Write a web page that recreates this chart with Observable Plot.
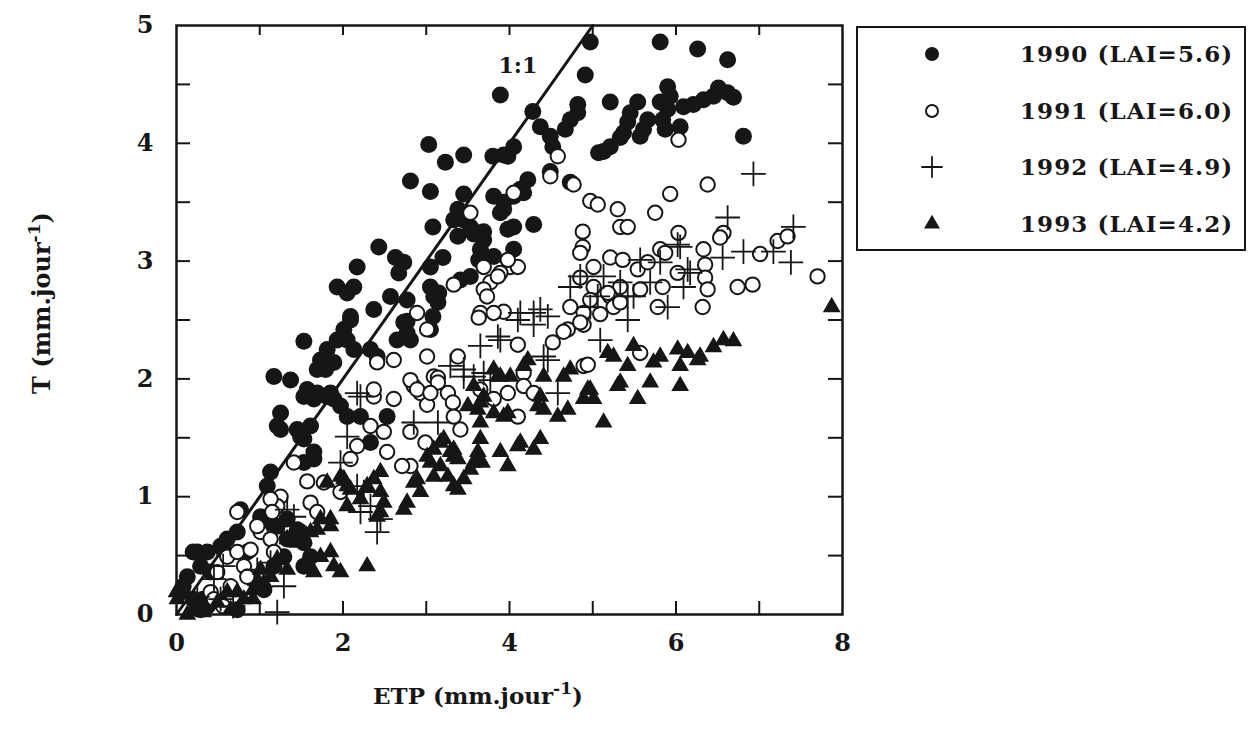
<!DOCTYPE html>
<html><head><meta charset="utf-8">
<script src="https://cdn.jsdelivr.net/npm/d3@7"></script>
<script src="https://cdn.jsdelivr.net/npm/@observablehq/plot@0.6"></script>
<style>
body{margin:0;background:#fff;}
#wrap{position:relative;width:1250px;height:737px;}
#wrap svg{position:absolute;left:0;top:0;}
</style></head><body><div id="wrap"></div>
<script>
// ---- data (ETP, T) in mm/jour ----
const seriesNames = ["1990 (LAI=5.6)", "1991 (LAI=6.0)", "1992 (LAI=4.9)", "1993 (LAI=4.2)"];
const xLabelTicks = [0, 2, 4, 6, 8];
const yLabelTicks = [0, 1, 2, 3, 4, 5];
const xMinorTicks = [1, 2, 3, 4, 5, 6, 7];
const yMinorTicks = [0.5, 1, 1.5, 2, 2.5, 3, 3.5, 4, 4.5];
const diag = [0, 5];
const annot = [{x: 4.1, y: 4.66, text: "1:1"}];

const d1990 = [
[4.97,4.86],[5.81,4.86],[6.26,4.80],[6.62,4.71],[3.89,4.41],[4.91,4.58],[5.21,4.35],[4.28,4.27],[4.82,4.33],[4.82,4.26],
[4.37,4.14],[4.49,4.06],[4.52,3.97],[4.67,4.12],[4.73,4.20],[4.05,3.97],[3.98,3.89],[3.80,3.89],[5.90,4.48],[5.93,4.40],
[5.54,4.35],[5.45,4.26],[5.42,4.18],[5.37,4.09],[5.33,4.05],[5.21,3.97],[5.13,3.93],[5.07,3.92],[5.66,4.20],[5.61,4.12],
[5.57,4.06],[5.81,4.35],[5.90,4.29],[5.84,4.20],[5.87,4.12],[6.05,4.14],[6.09,4.31],[6.21,4.33],[6.33,4.37],[6.45,4.40],
[6.51,4.47],[6.62,4.43],[6.69,4.39],[6.81,4.06],[4.22,3.69],[4.13,3.61],[4.05,3.55],[3.93,3.50],[3.81,3.55],[3.89,3.41],
[4.17,3.58],[4.05,3.29],[4.29,3.31],[4.05,3.10],[3.81,3.04],[3.65,3.10],[4.73,3.67],[4.49,3.76],[3.03,3.99],[3.23,3.84],
[3.45,3.90],[3.93,3.90],[2.81,3.68],[3.05,3.59],[3.45,3.57],[3.38,3.44],[3.33,3.35],[3.93,3.44],[3.08,3.29],[3.38,3.21],
[3.57,3.23],[3.69,3.25],[3.98,3.27],[2.43,3.12],[2.63,3.03],[2.73,2.99],[2.67,2.90],[3.05,2.95],[3.20,3.03],[3.63,3.01],
[2.17,2.95],[1.93,2.78],[2.05,2.73],[2.13,2.78],[2.57,2.70],[2.77,2.67],[3.09,2.70],[2.37,2.59],[2.09,2.53],[2.77,2.49],
[3.45,3.35],[3.53,3.29],[3.65,3.24],[3.69,3.18],[3.53,2.87],[3.41,2.84],[3.05,2.78],[3.15,2.73],[3.14,2.65],[2.73,2.48],
[2.77,2.39],[2.65,2.33],[2.81,2.33],[3.08,2.53],[3.05,2.42],[2.09,2.50],[2.01,2.42],[1.93,2.33],[2.05,2.33],[2.13,2.25],
[1.53,2.32],[1.81,2.25],[1.73,2.16],[1.69,2.08],[1.79,2.08],[1.89,2.14],[2.33,2.25],[2.41,2.19],[1.17,2.02],[1.37,1.99],
[1.57,1.91],[1.69,1.88],[1.85,1.88],[1.53,1.85],[1.65,1.83],[1.81,1.85],[1.25,1.71],[1.21,1.60],[1.45,1.57],[1.61,1.60],
[1.53,1.49],[1.89,1.83],[1.97,1.77],[2.05,1.68],[2.21,1.68],[2.53,1.68],[2.33,1.46],[1.65,1.38],[1.53,1.29],[1.13,1.21],
[1.09,1.09],[0.77,0.89],[0.61,0.64],[0.53,0.58],[0.25,0.53],[0.73,0.70],[0.85,0.53],[0.29,0.41],[0.41,0.36],[0.13,0.32],
[0.05,0.19],[0.20,0.13],[0.37,0.07],[1.01,0.83],[1.13,0.78],[1.21,0.75],[1.33,0.64],[1.29,0.49],[1.17,0.41],[1.49,0.70],
[1.25,1.57],[1.49,1.51],[1.65,1.32],[1.33,0.81],[1.45,0.72],[0.56,0.55],[0.20,0.53],[0.37,0.53],[0.08,0.24],[0.32,0.13],
[0.53,0.10],[0.29,0.04],[0.73,0.04],[0.92,0.30],[1.05,0.21],[1.53,0.61],[1.61,0.49],[1.53,0.41]
];

const d1991 = [
[6.03,4.03],[4.58,3.89],[4.49,3.72],[4.05,3.58],[4.77,3.65],[4.97,3.51],[5.06,3.48],[5.30,3.44],[5.33,3.29],[5.42,3.29],
[5.93,3.57],[5.75,3.41],[6.38,3.65],[4.88,3.25],[6.03,3.24],[6.57,3.24],[6.53,3.20],[4.88,3.12],[5.21,3.03],[5.36,3.01],
[5.81,3.10],[5.87,3.07],[6.33,3.10],[6.35,2.97],[7.01,3.06],[7.22,3.17],[7.34,3.21],[7.70,2.87],[5.54,2.93],[5.66,2.99],
[6.02,2.90],[6.74,2.78],[6.92,2.80],[4.85,2.86],[5.01,2.78],[5.33,2.78],[5.57,2.76],[5.84,2.78],[6.35,2.86],[6.38,2.76],
[6.32,2.61],[5.78,2.61],[5.21,2.70],[5.25,2.61],[4.97,2.67],[4.73,2.61],[4.89,2.56],[3.93,2.57],[3.65,2.56],[4.01,2.95],
[3.89,2.90],[3.77,2.82],[3.69,2.76],[3.63,2.52],[3.01,2.19],[3.38,2.19],[4.10,2.29],[4.52,2.31],[4.70,2.42],[4.89,2.46],
[5.18,2.73],[5.33,2.65],[5.09,2.55],[4.89,2.11],[5.57,2.22],[3.09,2.02],[2.85,1.94],[2.93,1.88],[3.01,1.78],[3.26,1.88],
[3.32,1.80],[3.33,1.68],[3.41,1.57],[2.81,1.55],[2.99,1.46],[2.81,1.26],[3.65,1.91],[3.81,1.83],[3.98,1.88],[4.17,2.05],
[4.17,1.94],[4.29,1.88],[4.10,1.68],[3.33,2.80],[4.65,2.40],[4.85,2.48],[4.94,2.12],[3.81,2.56],[2.61,2.16],[3.14,2.01],
[2.37,1.85],[2.61,1.83],[2.33,1.60],[2.49,1.55],[2.53,1.38],[2.17,1.43],[2.09,1.32],[1.41,1.29],[1.57,1.13],[1.77,1.12],
[1.25,1.00],[1.21,0.92],[1.13,0.98],[1.97,1.04],[1.61,0.95],[1.69,0.87],[0.73,0.87],[1.01,0.70],[1.13,0.64],[1.17,0.53],
[0.61,0.49],[0.41,0.19],[0.49,0.36],[0.73,0.53],[0.81,0.41],[0.85,0.32],[0.45,0.13],[0.56,0.07],[2.71,1.26],[1.15,0.87],
[0.97,0.75],[0.89,0.55],[0.65,0.24],[3.53,3.41],[3.69,2.95],[3.86,2.87],[3.73,2.70],[2.89,2.56],[3.01,2.42],[2.41,2.14],
[2.81,1.99],[2.89,1.91],[3.14,1.97],[3.05,1.88],[2.37,1.91],[4.85,3.07],[5.01,2.95],[4.10,2.95],[3.98,3.01]
];

const d1992 = [
[6.93,3.74],[6.62,3.37],[7.41,3.29],[7.38,2.99],[6.81,3.08],[6.56,3.03],[6.05,3.12],[6.14,2.93],[6.09,2.78],[5.90,2.61],
[5.42,2.50],[5.49,2.70],[5.81,2.99],[5.13,2.87],[5.69,2.82],[6.17,2.90],[7.17,3.08],[5.57,3.01],[6.02,3.14],[5.33,2.82],
[4.73,2.78],[4.85,2.87],[5.06,2.70],[5.42,2.70],[4.13,2.56],[4.29,2.56],[4.37,2.59],[4.97,2.61],[4.10,2.50],[4.29,2.46],
[4.46,2.53],[3.65,2.28],[3.86,2.36],[3.89,2.33],[4.41,2.19],[4.46,2.16],[3.45,2.02],[3.57,2.02],[3.69,2.05],[3.77,1.99],
[4.58,1.88],[5.09,2.33],[2.85,1.63],[3.14,1.63],[3.29,2.11],[3.45,2.08],[2.21,1.85],[2.05,1.51],[1.97,1.29],[2.25,1.04],
[2.33,0.92],[2.45,0.81],[2.41,0.70],[2.17,1.09],[1.33,0.89],[1.41,0.83],[1.13,0.44],[1.29,0.24],[0.97,0.38],[0.45,0.30],
[0.53,0.13],[0.68,0.07],[2.17,1.88],[2.21,0.87],[0.25,0.15],[0.56,0.41],[1.21,0.02]
];

const d1993 = [
[7.87,2.61],[6.69,2.32],[6.57,2.33],[6.45,2.27],[6.26,2.16],[6.14,2.22],[6.02,2.25],[6.05,2.11],[6.05,1.94],[5.81,2.19],
[5.73,2.14],[5.69,1.97],[5.54,1.83],[5.33,1.97],[5.42,2.11],[5.49,2.28],[5.18,2.22],[5.25,2.19],[4.97,1.91],[4.89,1.83],
[5.01,1.83],[5.13,1.63],[4.73,2.08],[4.65,2.02],[4.58,1.68],[4.70,1.74],[4.37,1.85],[4.41,1.74],[4.34,1.77],[4.37,1.49],
[4.29,1.40],[4.13,1.46],[4.10,1.43],[3.89,1.38],[3.98,1.26],[4.22,2.16],[4.17,2.11],[3.93,1.68],[3.86,2.02],[3.81,2.08],
[3.67,1.29],[3.65,1.49],[5.30,1.94],[4.94,1.91],[4.41,2.02],[3.62,1.32],[3.53,1.23],[3.62,1.74],[3.50,1.77],[3.69,1.85],
[3.65,1.63],[3.98,1.71],[3.81,1.71],[4.01,2.02],[3.89,2.02],[3.21,1.49],[3.33,1.40],[3.33,1.34],[3.45,1.15],[3.38,1.06],
[2.85,1.12],[2.93,1.04],[3.09,1.17],[3.17,1.26],[3.26,1.17],[3.57,1.94],[3.65,1.80],[3.17,1.46],[3.09,1.40],[3.57,1.29],
[3.62,1.38],[3.29,1.38],[3.38,1.32],[3.33,1.09],[3.01,1.34],[3.05,1.29],[2.89,1.15],[2.77,0.95],[2.73,0.89],[2.45,1.21],
[2.37,1.15],[2.29,1.09],[2.45,1.04],[2.49,0.95],[2.45,0.87],[2.41,0.83],[1.97,1.17],[2.05,1.09],[2.21,0.98],[1.81,1.12],
[1.73,0.81],[1.69,0.72],[1.85,0.75],[2.29,0.41],[1.97,0.36],[1.89,0.41],[1.73,0.49],[1.85,0.53],[1.45,0.61],[1.53,0.64],
[1.21,0.47],[1.33,0.38],[1.13,0.32],[1.57,0.41],[1.65,0.36],[1.01,0.38],[1.05,0.27],[0.92,0.21],[0.61,0.19],[0.73,0.19],
[0.81,0.13],[0.20,0.04],[0.32,0.02],[0.13,0.00],[0.01,0.13],[0.00,0.19],[0.08,0.21],[1.85,0.81],[1.33,0.64],[1.49,0.66],
[1.61,0.70],[2.05,0.92],[2.09,1.06],[2.01,1.15],[0.49,0.10],[0.65,0.04],[0.92,0.13],[6.29,2.19]
];

// ---- layout ----
const W = 1250, H = 737, mL = 176, mR = 408, mT = 25, mB = 123;
const iW = W - mL - mR, iH = H - mT - mB;
const ink = "#161616";
const font = "'DejaVu Serif', serif";
const px = d => d[0], py = d => d[1];
const fmt = d => String(d);

const chart = Plot.plot({
  width: W, height: H,
  marginLeft: mL, marginRight: mR, marginTop: mT, marginBottom: mB,
  x: {domain: [0, 8]},
  y: {domain: [0, 5]},
  style: {background: "white", fontFamily: font, fontSize: "24px", fontWeight: "bold", color: ink, overflow: "visible"},
  marks: [
    Plot.dot(d1990, {x: px, y: py, r: 8.5, fill: ink}),
    Plot.dot(d1991, {x: px, y: py, r: 7.2, fill: "white", stroke: ink, strokeWidth: 2}),
    Plot.dot(d1992, {x: px, y: py, symbol: "plus", r: 8, stroke: ink, strokeWidth: 1.8}),
    Plot.dot(d1993, {x: px, y: py, symbol: "triangle", r: 6.6, fill: ink}),
    Plot.line(diag, {x: d => d, y: d => d, stroke: ink, strokeWidth: 3}),
    Plot.text(annot, {x: "x", y: "y", text: "text", fontSize: 22, fontWeight: 600, fill: ink, fontFamily: font}),
    Plot.tickX(xMinorTicks, {x: d => d, insetTop: iH - 13, stroke: ink, strokeWidth: 2}),
    Plot.tickX(xMinorTicks, {x: d => d, insetBottom: iH - 10, stroke: ink, strokeWidth: 2}),
    Plot.tickY(yMinorTicks, {y: d => d, insetRight: iW - 14, stroke: ink, strokeWidth: 2}),
    Plot.tickY(yMinorTicks, {y: d => d, insetLeft: iW - 14, stroke: ink, strokeWidth: 2}),
    Plot.frame({stroke: ink, strokeWidth: 2.5}),
    Plot.axisX(xLabelTicks, {tickSize: 0, tickPadding: 19, tickFormat: fmt, fontSize: 24, fontWeight: "bold", fontFamily: font, label: null, fill: ink}),
    Plot.axisY(yLabelTicks, {tickSize: 0, tickPadding: 23, tickFormat: fmt, fontSize: 24, fontWeight: "bold", fontFamily: font, label: null, fill: ink})
  ]
});
document.getElementById("wrap").appendChild(chart);

// ---- overlay: axis titles and legend ----
const svg = d3.select("#wrap").append("svg")
  .attr("width", W).attr("height", H)
  .style("pointer-events", "none")
  .attr("font-family", font).attr("font-weight", "bold").attr("fill", ink);

function title(sel, main) {
  sel.append("tspan").text(main);
  sel.append("tspan").attr("dy", -10).attr("font-size", 17).text("-1");
  sel.append("tspan").attr("dy", 10).text(")");
}
title(svg.append("text").attr("x", 478).attr("y", 704).attr("text-anchor", "middle").attr("font-size", 23), "ETP (mm.jour");
title(svg.append("text").attr("transform", "translate(50,303) rotate(-90)").attr("text-anchor", "middle").attr("font-size", 24), "T (mm.jour");

// legend
const lg = svg.append("g");
lg.append("rect").attr("x", 857).attr("y", 27).attr("width", 388).attr("height", 223)
  .attr("fill", "white").attr("stroke", ink).attr("stroke-width", 2);
const rowY = [54, 111, 167, 224];
const symX = 932;
lg.append("circle").attr("cx", symX).attr("cy", rowY[0]).attr("r", 7).attr("fill", ink);
lg.append("circle").attr("cx", symX).attr("cy", rowY[1]).attr("r", 6).attr("fill", "white").attr("stroke", ink).attr("stroke-width", 2);
lg.append("path").attr("transform", `translate(${symX},${rowY[2]})`)
  .attr("d", d3.symbol(d3.symbolPlus, 150)()).attr("fill", "none").attr("stroke", ink).attr("stroke-width", 1.8);
lg.append("path").attr("transform", `translate(${symX},${rowY[3]})`)
  .attr("d", d3.symbol(d3.symbolTriangle, 110)()).attr("fill", ink);
seriesNames.forEach((s, i) => {
  lg.append("text").attr("x", 1020).attr("y", rowY[i]).attr("dy", "0.36em")
    .attr("font-size", 23).attr("letter-spacing", 1.1).text(s);
});
</script></body></html>
